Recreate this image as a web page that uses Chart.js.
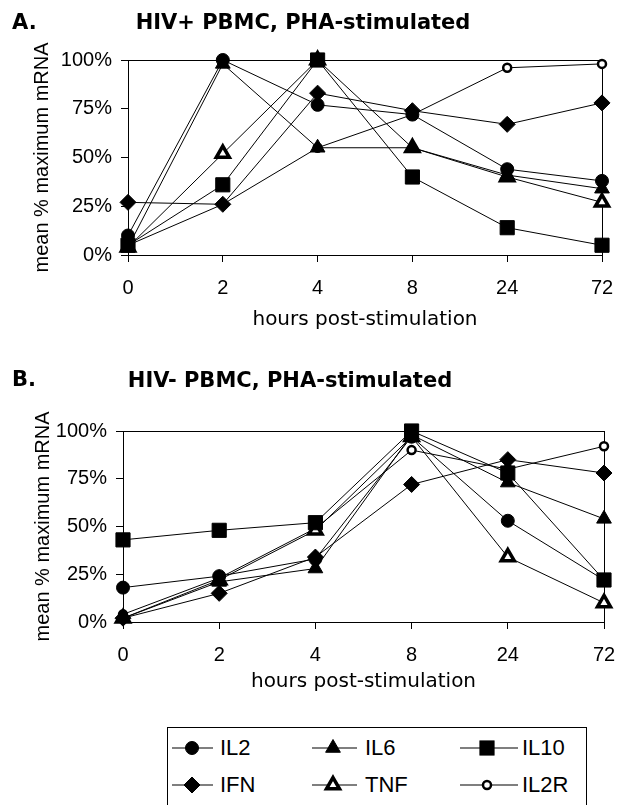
<!DOCTYPE html>
<html><head><meta charset="utf-8">
<script src="https://cdn.jsdelivr.net/npm/chart.js@4.4.1/dist/chart.umd.min.js"></script>
<style>
html,body{margin:0;padding:0;background:#fff;width:618px;height:805px;overflow:hidden;position:relative}
#wa{position:absolute;left:0;top:0;width:618px;height:340px}
#wb{position:absolute;left:-24px;top:340px;width:642px;height:360px}
#legend{position:absolute;left:167px;top:727px;width:420px;height:100px;border:1px solid #000;box-sizing:border-box;font-family:"Liberation Sans",Arial,sans-serif;font-size:22px;color:#000}
#legend .t{position:absolute;line-height:26px;white-space:nowrap}
#legend svg{position:absolute;overflow:visible}
</style></head><body>
<div id="wa"><canvas id="ca" width="618" height="340"></canvas></div>
<div id="wb"><canvas id="cb" width="642" height="360"></canvas></div>
<div id="legend"></div>
<script>
// ---- data ----
const hours = ['0', '2', '4', '8', '24', '72'];
const seriesNames = ['IL2', 'IL6', 'IL10', 'IFN', 'TNF', 'IL2R'];
const yTickLabels = ['0%', '25%', '50%', '75%', '100%'];

// Panel A: HIV+ PBMC (mean % maximum mRNA)
const posIL2  = [10, 100, 77, 72, 44, 38];
const posIL6  = [4, 98, 55, 55, 41, 34];
const posIL10 = [5, 36, 100, 40, 14, 5];
const posIFN  = [27, 26, 83, 74, 67, 78];
const posTNF  = [4, 52, 100, 55, 40, 27];
const posIL2R = [5, 26, 55, 72, 96, 98];

// Panel B: HIV- PBMC
const negIL2  = [18, 24, 33, 97, 53, 22];
const negIL6  = [2, 21, 28, 98, 73, 54];
const negIL10 = [43, 48, 52, 100, 78, 22];
const negIFN  = [2, 15, 34, 72, 85, 78];
const negTNF  = [2, 22, 48, 97, 34, 10];
const negIL2R = [4, 23, 49, 90, 80, 92];

// ---- styles ----
const markerStyles = {
  IL2:  {pointStyle: 'circle',   pointRadius: 6.5, pointBackgroundColor: '#000', pointBorderWidth: 1},
  IL6:  {pointStyle: 'triangle', pointRadius: 8.5, pointBackgroundColor: '#000', pointBorderWidth: 1},
  IL10: {pointStyle: 'rect',     pointRadius: 10,  pointBackgroundColor: '#000', pointBorderWidth: 1},
  IFN:  {pointStyle: 'rectRot',  pointRadius: 8,   pointBackgroundColor: '#000', pointBorderWidth: 1},
  TNF:  {pointStyle: 'triangle', pointRadius: 7.5, pointBackgroundColor: '#fff', pointBorderWidth: 3.5},
  IL2R: {pointStyle: 'circle',   pointRadius: 4,   pointBackgroundColor: '#fff', pointBorderWidth: 2.5}
};

function buildDatasets(arrs) {
  return seriesNames.map((name, i) => Object.assign({
    label: name,
    data: arrs[i],
    borderColor: '#000',
    borderWidth: 1,
    pointBorderColor: '#000',
    tension: 0,
    fill: false,
    clip: false
  }, markerStyles[name]));
}

const framePlugin = {
  id: 'frame',
  beforeDatasetsDraw(chart) {
    const {ctx, chartArea: a} = chart;
    ctx.save();
    ctx.strokeStyle = '#000';
    ctx.lineWidth = 1;
    ctx.strokeRect(Math.round(a.left) + 0.5, Math.round(a.top) + 0.5, Math.round(a.right - a.left), Math.round(a.bottom - a.top));
    ctx.restore();
  }
};
const panelLetter = {
  id: 'panelLetter',
  afterDraw(chart, args, opts) {
    const ctx = chart.ctx;
    ctx.save();
    ctx.font = 'bold 21px "DejaVu Sans", sans-serif';
    ctx.fillStyle = '#000';
    ctx.textBaseline = 'middle';
    ctx.textAlign = 'left';
    ctx.fillText(opts.text, opts.x, opts.y);
    ctx.restore();
  }
};

function makeChart(id, titleText, letter, arrs, g) {
  return new Chart(document.getElementById(id), {
    type: 'line',
    data: {labels: hours, datasets: buildDatasets(arrs)},
    plugins: [framePlugin, panelLetter],
    options: {
      responsive: false,
      animation: false,
      devicePixelRatio: 1,
      layout: {padding: {left: g.padL, right: g.padR, top: 0, bottom: g.padB}},
      plugins: {
        legend: {display: false},
        tooltip: {enabled: false},
        title: {
          display: true, text: titleText, color: '#000',
          font: {family: '"DejaVu Sans", sans-serif', size: 21, weight: 'bold', lineHeight: 1.2},
          padding: {top: g.titleTop, bottom: g.titleBottom}
        },
        panelLetter: {text: letter, x: g.letterX, y: g.letterY}
      },
      scales: {
        x: {
          type: 'category', offset: false,
          grid: {display: true, drawOnChartArea: false, drawTicks: true, tickLength: 7, color: '#000'},
          border: {display: true, color: '#000', width: 1},
          ticks: {color: '#000', font: {family: '"Liberation Sans", Arial, sans-serif', size: 20}, padding: 14, maxRotation: 0, autoSkip: false},
          title: {display: true, text: 'hours post-stimulation', color: '#000',
                  font: {family: '"DejaVu Sans", sans-serif', size: 20, lineHeight: 1.2}, padding: {top: 0, bottom: 3}},
          afterFit(s) { s.height = g.xH; s.paddingLeft = 0; s.paddingRight = 0; }
        },
        y: {
          min: 0, max: 100,
          grid: {display: true, drawOnChartArea: false, drawTicks: true, tickLength: 7, color: '#000'},
          border: {display: true, color: '#000', width: 1},
          ticks: {stepSize: 25, color: '#000', padding: 9,
                  font: {family: '"Liberation Sans", Arial, sans-serif', size: 20},
                  callback: (v, i) => yTickLabels[i]},
          title: {display: true, text: 'mean % maximum mRNA', color: '#000',
                  font: {family: '"Liberation Sans", Arial, sans-serif', size: 20, lineHeight: 1.2}, padding: {top: g.yTitlePad, bottom: 0}},
          afterFit(s) { s.width = g.yW; s.paddingTop = 0; s.paddingBottom = 0; }
        }
      }
    }
  });
}

makeChart('ca', 'HIV+ PBMC, PHA-stimulated', 'A.',
  [posIL2, posIL6, posIL10, posIFN, posTNF, posIL2R],
  {padL: 4, padR: 16, padB: 5, titleTop: 11.4, titleBottom: 23.4, xH: 80, yW: 124, yTitlePad: 26, letterX: 12, letterY: 24});

makeChart('cb', 'HIV- PBMC, PHA-stimulated', 'B.',
  [negIL2, negIL6, negIL10, negIFN, negTNF, negIL2R],
  {padL: 0, padR: 14, padB: 3, titleTop: 29.4, titleBottom: 36.4, xH: 75, yW: 147, yTitlePad: 55, letterX: 36, letterY: 41});

// ---- legend (HTML) ----
(function () {
  const lg = document.getElementById('legend');
  const ox = 167, oy = 727;
  const cols = [{l: 172, m: 192, r: 213, t: 220}, {l: 312, m: 333, r: 357, t: 365}, {l: 460, m: 487, r: 518, t: 522}];
  const rows = [748, 785];
  const order = [['IL2', 'IL6', 'IL10'], ['IFN', 'TNF', 'IL2R']];
  function marker(name, cx, cy) {
    const s = markerStyles[name];
    const fill = s.pointBackgroundColor, sw = s.pointBorderWidth, r = s.pointRadius;
    if (s.pointStyle === 'circle') return `<circle cx="${cx}" cy="${cy}" r="${r}" fill="${fill}" stroke="#000" stroke-width="${sw}"/>`;
    if (s.pointStyle === 'rect') { const h = r * Math.SQRT1_2; return `<rect x="${cx - h}" y="${cy - h}" width="${2 * h}" height="${2 * h}" fill="${fill}" stroke="#000" stroke-width="${sw}"/>`; }
    if (s.pointStyle === 'rectRot') return `<polygon points="${cx},${cy - r} ${cx + r},${cy} ${cx},${cy + r} ${cx - r},${cy}" fill="${fill}" stroke="#000" stroke-width="${sw}"/>`;
    const dx = r * Math.sqrt(3) / 2;
    return `<polygon points="${cx},${cy - r} ${cx + dx},${cy + r / 2} ${cx - dx},${cy + r / 2}" fill="${fill}" stroke="#000" stroke-width="${sw}"/>`;
  }
  let html = `<svg width="420" height="100" style="left:-1px;top:-1px">`;
  order.forEach((row, ri) => row.forEach((name, ci) => {
    const c = cols[ci], y = rows[ri] - oy;
    html += `<line x1="${c.l - ox}" y1="${y}" x2="${c.r - ox}" y2="${y}" stroke="#000" stroke-width="1.2"/>`;
    html += marker(name, c.m - ox, y);
  }));
  html += `</svg>`;
  order.forEach((row, ri) => row.forEach((name, ci) => {
    const c = cols[ci], y = rows[ri] - oy;
    html += `<span class="t" style="left:${c.t - ox - 1}px;top:${y - 14}px">${name}</span>`;
  }));
  lg.innerHTML = html;
})();
</script>
</body></html>
